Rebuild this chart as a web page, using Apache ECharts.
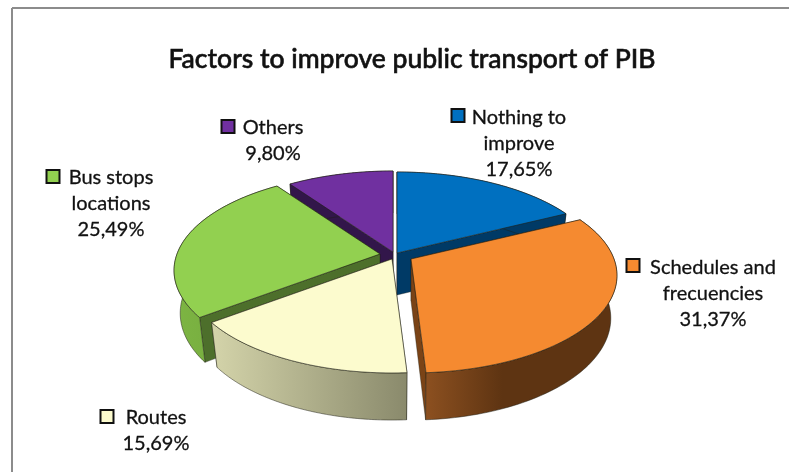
<!DOCTYPE html>
<html>
<head>
<meta charset="utf-8">
<style>html,body{margin:0;padding:0;background:#fff;overflow:hidden}#c{width:789px;height:472px}</style>
<script src="https://cdn.jsdelivr.net/npm/echarts@6/dist/echarts.min.js"></script>
</head>
<body>
<div id="c"></div>
<script>
// ---- data ----
var titleText = 'Factors to improve public transport of PIB';
var categories = ['Nothing to\nimprove', 'Schedules and\nfrecuencies', 'Routes', 'Bus stops\nlocations', 'Others'];
var shares = [17.65, 31.37, 15.69, 25.49, 9.80];

// ---- styles ----
var topColors = ['#0070C0', '#F58A30', '#FCFBCE', '#92D050', '#7030A0'];
var wallColors = ['#003A66', '#7A4316', '#8A8A6C', '#4D6F2B', '#32164A'];
var sideStops = [
  [[0, '#003A66'], [1, '#003A66']],
  [[0, '#8C5020'], [0.4, '#5E3412'], [1, '#5E3412']],
  [[0, '#D4D4AA'], [1, '#8A8A6C']],
  [[0, '#7DB543'], [1, '#6FA33A']],
  [[0, '#32164A'], [1, '#32164A']]
];
var paintRank = [0, 3, 4, 2, 1];          // back-to-front painting order
var apex = [[397, 253], [411, 259], [392, 259], [380, 254], [393, 252]];
var labelBox = [[519, 143, 451, 116], [713, 293, 626, 266], [156, 430, 100, 417], [111, 203, 46, 177], [273, 140, 221, 127]];
var RX = 203, KY = 94.7, PERSP = 0.169, BOTTOM_SHRINK = 0.97;
var FONT = 'Lato, "Noto Sans", sans-serif';

function project(deg) {
  var a = deg * Math.PI / 180, X = Math.sin(a), Y = -Math.cos(a);
  var s = 1 / (1 - PERSP * Y);
  return [RX * X * s, KY * Y * s, s];
}
function depth(s) { return 42 + 25 * Math.max(s - 1, 0); }

var total = shares.reduce(function (p, v) { return p + v; }, 0);

function renderSlice(params, api) {
  var i = params.dataIndex, before = 0;
  for (var k = 0; k < i; k++) before += shares[k];
  var a0 = before / total * 360;
  var a1 = a0 + api.value(0) / total * 360;
  var c = apex[i], z = paintRank[i] * 10;
  var arcTop = [], arcBot = [], n = 80;
  for (var t = 0; t <= n; t++) {
    var p = project(a0 + (a1 - a0) * t / n);
    arcTop.push([c[0] + p[0], c[1] + p[1]]);
    arcBot.push([c[0] + p[0] * BOTTOM_SHRINK, c[1] + p[1] + depth(p[2])]);
  }
  var centerDepth = 42;
  function wall(pt, ptBot, lift) {
    return { type: 'polygon', z2: z + lift,
      shape: { points: [c, pt, ptBot, [c[0], c[1] + centerDepth]] },
      style: { fill: wallColors[i], stroke: 'rgba(30,30,20,0.6)', lineWidth: 0.6 } };
  }
  // the wall whose outer corner sits lower on screen faces the viewer and is painted last
  var firstFront = arcTop[0][1] > arcTop[n][1];
  var xs = arcTop.map(function (q) { return q[0]; });
  var minX = Math.min.apply(null, xs), maxX = Math.max.apply(null, xs);
  var outer = { type: 'polygon', z2: z + 3,
    shape: { points: arcTop.concat(arcBot.slice().reverse()) },
    style: {
      fill: new echarts.graphic.LinearGradient(minX, 0, maxX, 0,
        sideStops[i].map(function (s) { return { offset: s[0], color: s[1] }; }), true),
      stroke: 'rgba(30,30,20,0.7)', lineWidth: 0.7 } };
  var top = { type: 'polygon', z2: z + 4,
    shape: { points: [c].concat(arcTop) },
    style: { fill: topColors[i], stroke: 'rgba(30,30,20,0.75)', lineWidth: 0.8 } };
  var lb = labelBox[i];
  var text = { type: 'text', z2: 100,
    style: { text: categories[i] + '\n' + api.value(0).toFixed(2).replace('.', ',') + '%',
      x: lb[0], y: lb[1] + 0.5, align: 'center', verticalAlign: 'middle',
      fontFamily: FONT, fontSize: 20, lineHeight: 26, fill: '#111',
      stroke: '#111', lineWidth: 0.3 } };
  var key = { type: 'rect', z2: 100,
    shape: { x: lb[2] + 0.5, y: lb[3] - 7, width: 13, height: 13 },
    style: { fill: topColors[i], stroke: '#111', lineWidth: 2 } };
  return { type: 'group', children: [
    wall(arcTop[0], arcBot[0], firstFront ? 2 : 1),
    wall(arcTop[n], arcBot[n], firstFront ? 1 : 2),
    outer, top, text, key] };
}

var chart = echarts.init(document.getElementById('c'), null, { renderer: 'canvas', width: 789, height: 472 });
chart.setOption({
  animation: false,
  backgroundColor: '#fff',
  title: { text: titleText, left: 407, top: 41, textAlign: 'center',
    textStyle: { fontFamily: FONT, fontSize: 26.5, fontWeight: 500, color: '#111', textBorderColor: '#111', textBorderWidth: 0.6 } },
  graphic: [
    { type: 'line', shape: { x1: 12, y1: 8, x2: 789, y2: 8 }, style: { stroke: '#8C8C8C', lineWidth: 2 } },
    { type: 'line', shape: { x1: 12, y1: 8, x2: 12, y2: 472 }, style: { stroke: '#8C8C8C', lineWidth: 2 } }
  ],
  series: [{
    type: 'custom',
    coordinateSystem: 'none',
    renderItem: renderSlice,
    data: shares.map(function (v, i) { return { name: categories[i], value: [v] }; }),
    encode: { value: 0 }
  }]
});
</script>
</body>
</html>
